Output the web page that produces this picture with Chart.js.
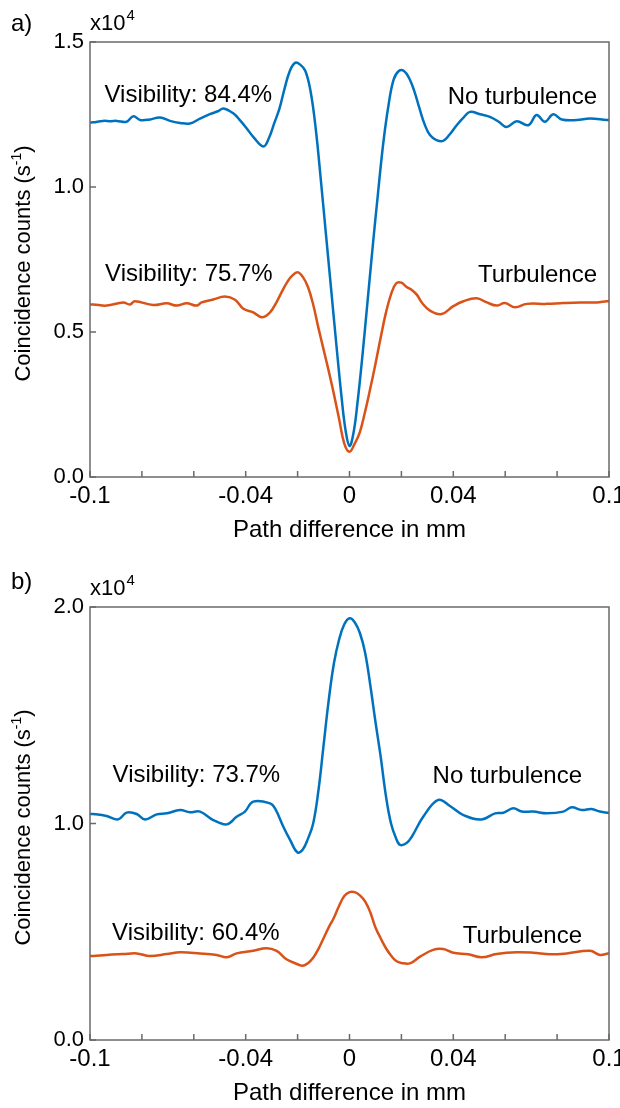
<!DOCTYPE html>
<html>
<head>
<meta charset="utf-8">
<script src="https://cdn.jsdelivr.net/npm/chart.js@4.4.1/dist/chart.umd.min.js"></script>
<style>
    html, body { margin: 0; padding: 0; background: #fff; }
    #wrap { position: relative; width: 620px; height: 1108px; overflow: hidden; }
    #c1 { position: absolute; left: 0; top: 0; }
    #c2 { position: absolute; left: 0; top: 545px; }
</style>
</head>
<body>
<div id="wrap">
    <canvas id="c1" width="620" height="545"></canvas>
    <canvas id="c2" width="620" height="563"></canvas>
</div>
<script>
// eixo x comum (mm)
const xTickVals = [-0.1, -0.08, -0.06, -0.04, -0.02, 0, 0.02, 0.04, 0.06, 0.08, 0.1];
const xLabelVals = [-0.1, -0.04, 0, 0.04, 0.1];
const xLabelText = ['-0.1', '-0.04', '0', '0.04', '0.1'];
const yTicksA = [0, 0.5, 1.0, 1.5];
const yTicksB = [0, 1.0, 2.0];

// a) contagens x10^4, sem turbulencia (azul)
const aBlueX = [-0.100, -0.0987, -0.095, -0.092, -0.0897, -0.0859, -0.0833, -0.0807, -0.0769, -0.073,
    -0.0692, -0.0653, -0.0615, -0.0576, -0.0538, -0.0505, -0.0486, -0.0448, -0.042, -0.0396,
    -0.0371, -0.0332, -0.031, -0.029, -0.027, -0.025, -0.023, -0.021, -0.019, -0.017,
    -0.015, -0.013, -0.011, -0.009, -0.007, -0.005, -0.003, -0.0015, 0.000, 0.0015,
    0.003, 0.005, 0.007, 0.009, 0.011, 0.013, 0.015, 0.017, 0.019, 0.021,
    0.023, 0.025, 0.027, 0.029, 0.031, 0.0335, 0.0361, 0.0385, 0.0413, 0.044,
    0.0464, 0.0503, 0.0541, 0.0575, 0.0606, 0.0644, 0.0689, 0.0721, 0.0753, 0.0785,
    0.0818, 0.0876, 0.0927, 0.0991, 0.100];
const aBlueY = [1.222, 1.223, 1.228, 1.227, 1.228, 1.225, 1.244, 1.231, 1.233, 1.240,
    1.228, 1.221, 1.219, 1.236, 1.251, 1.262, 1.271, 1.254, 1.228, 1.202,
    1.173, 1.140, 1.170, 1.220, 1.270, 1.340, 1.400, 1.428, 1.422, 1.400,
    1.330, 1.200, 1.020, 0.830, 0.640, 0.450, 0.270, 0.160, 0.107, 0.150,
    0.250, 0.420, 0.610, 0.800, 0.980, 1.150, 1.280, 1.370, 1.400, 1.400,
    1.375, 1.330, 1.270, 1.215, 1.179, 1.162, 1.159, 1.180, 1.213, 1.240,
    1.259, 1.251, 1.242, 1.225, 1.207, 1.227, 1.213, 1.248, 1.225, 1.251,
    1.233, 1.231, 1.236, 1.231, 1.231];

// a) com turbulencia (laranja)
const aOrangeX = [-0.100, -0.0987, -0.0936, -0.0872, -0.0846, -0.0827, -0.0756, -0.0704, -0.0666, -0.0627,
    -0.0589, -0.057, -0.0525, -0.048, -0.0441, -0.0409, -0.0371, -0.0338, -0.0306, -0.028,
    -0.026, -0.024, -0.022, -0.020, -0.018, -0.016, -0.014, -0.012, -0.010, -0.008,
    -0.006, -0.004, -0.002, 0.000, 0.002, 0.004, 0.006, 0.008, 0.010, 0.012,
    0.014, 0.016, 0.018, 0.020, 0.022, 0.024, 0.026, 0.028, 0.031, 0.0355,
    0.040, 0.0439, 0.049, 0.0529, 0.0567, 0.0599, 0.0638, 0.0683, 0.076, 0.0824,
    0.0888, 0.0953, 0.0991, 0.100];
const aOrangeY = [0.595, 0.595, 0.591, 0.602, 0.595, 0.606, 0.593, 0.599, 0.591, 0.599,
    0.591, 0.602, 0.612, 0.622, 0.611, 0.580, 0.568, 0.551, 0.568, 0.605,
    0.640, 0.672, 0.695, 0.706, 0.690, 0.655, 0.595, 0.515, 0.440, 0.365,
    0.285, 0.200, 0.115, 0.087, 0.115, 0.155, 0.225, 0.305, 0.390, 0.480,
    0.565, 0.630, 0.668, 0.670, 0.655, 0.645, 0.628, 0.600, 0.574, 0.562,
    0.589, 0.606, 0.616, 0.602, 0.591, 0.600, 0.585, 0.597, 0.597, 0.600,
    0.602, 0.602, 0.606, 0.606];

// b) sem turbulencia (azul)
const bBlueX = [-0.100, -0.0987, -0.0936, -0.0891, -0.0859, -0.082, -0.0788, -0.0743, -0.0704, -0.0653,
    -0.0615, -0.0576, -0.0525, -0.0473, -0.0435, -0.0403, -0.0371, -0.0306, -0.0287, -0.0255,
    -0.0229, -0.020, -0.018, -0.016, -0.014, -0.012, -0.010, -0.008, -0.006, -0.004,
    -0.002, 0.000, 0.002, 0.004, 0.006, 0.008, 0.010, 0.012, 0.014, 0.016,
    0.018, 0.0195, 0.022, 0.024, 0.0284, 0.0342, 0.0387, 0.0439, 0.0509, 0.0561,
    0.0593, 0.0631, 0.0664, 0.0708, 0.076, 0.0824, 0.0856, 0.0895, 0.0933, 0.0965,
    0.0997, 0.100];
const bBlueY = [1.044, 1.044, 1.035, 1.019, 1.050, 1.044, 1.019, 1.042, 1.047, 1.062,
    1.052, 1.055, 1.016, 0.996, 1.031, 1.055, 1.101, 1.093, 1.070, 0.985,
    0.924, 0.866, 0.880, 0.930, 1.000, 1.150, 1.360, 1.570, 1.740, 1.850,
    1.920, 1.948, 1.930, 1.880, 1.790, 1.640, 1.470, 1.310, 1.130, 1.000,
    0.930, 0.901, 0.910, 0.939, 1.031, 1.109, 1.081, 1.039, 1.019, 1.047,
    1.050, 1.070, 1.055, 1.055, 1.047, 1.055, 1.075, 1.062, 1.067, 1.055,
    1.050, 1.050];

// b) com turbulencia (laranja)
const bOrangeX = [-0.100, -0.0987, -0.0936, -0.0872, -0.082, -0.0769, -0.0704, -0.0653, -0.0576, -0.0512,
    -0.0473, -0.0435, -0.0371, -0.0320, -0.0281, -0.0243, -0.020, -0.018, -0.016, -0.014,
    -0.012, -0.010, -0.008, -0.006, -0.004, -0.002, 0.000, 0.002, 0.004, 0.006,
    0.008, 0.010, 0.012, 0.014, 0.016, 0.018, 0.020, 0.0233, 0.0272, 0.0322,
    0.0361, 0.040, 0.0457, 0.0509, 0.0567, 0.0644, 0.0708, 0.0773, 0.0837, 0.0927,
    0.0965, 0.0997, 0.100];
const bOrangeY = [0.388, 0.388, 0.393, 0.397, 0.400, 0.388, 0.397, 0.405, 0.400, 0.393,
    0.382, 0.400, 0.412, 0.424, 0.412, 0.373, 0.350, 0.343, 0.355, 0.380,
    0.420, 0.470, 0.520, 0.565, 0.620, 0.665, 0.683, 0.683, 0.668, 0.640,
    0.590, 0.520, 0.470, 0.425, 0.390, 0.365, 0.356, 0.354, 0.385, 0.416,
    0.420, 0.403, 0.396, 0.382, 0.397, 0.405, 0.403, 0.396, 0.400, 0.412,
    0.393, 0.400, 0.400];

const corEixo = '#6a6a6a';
const azul = '#0072BD';
const laranja = '#D95319';
const fonte = '"Liberation Sans", Arial, Helvetica, sans-serif';

Chart.defaults.font.family = fonte;
Chart.defaults.color = '#000';

function pontos(xs, ys) {
    return xs.map((x, i) => ({ x: x, y: ys[i] }));
}

// moldura, ticks internos, anotacoes e titulo do eixo y
const moldura = {
    id: 'moldura',
    afterDraw(chart, args, o) {
        const ctx = chart.ctx;
        const a = chart.chartArea;
        const sx = chart.scales.x;
        const sy = chart.scales.y;
        ctx.save();
        ctx.strokeStyle = corEixo;
        ctx.lineWidth = 1.5;
        ctx.strokeRect(a.left, a.top, a.right - a.left, a.bottom - a.top);
        ctx.beginPath();
        xTickVals.forEach(v => {
            const p = sx.getPixelForValue(v);
            ctx.moveTo(p, a.bottom);
            ctx.lineTo(p, a.bottom - 6);
        });
        o.yTicks.forEach(v => {
            const p = sy.getPixelForValue(v);
            ctx.moveTo(a.left, p);
            ctx.lineTo(a.left + 6, p);
        });
        ctx.stroke();

        ctx.fillStyle = '#000';
        ctx.textBaseline = 'alphabetic';
        ctx.font = '24px ' + fonte;
        o.notas.forEach(n => {
            ctx.textAlign = n.align;
            ctx.fillText(n.text, sx.getPixelForValue(n.x), sy.getPixelForValue(n.y));
        });

        ctx.textAlign = 'left';
        ctx.fillText(o.painel, 11, a.top - o.painelDy);

        ctx.font = '22px ' + fonte;
        ctx.fillText('x10', a.left, a.top - 12);
        const w = ctx.measureText('x10').width;
        ctx.font = '15px ' + fonte;
        ctx.fillText('4', a.left + w + 1, a.top - 22);

        // titulo do eixo y com expoente
        const p1 = 'Coincidence counts (s';
        const p2 = '-1';
        const p3 = ')';
        ctx.font = '22px ' + fonte;
        const w1 = ctx.measureText(p1).width;
        const w3 = ctx.measureText(p3).width;
        ctx.font = '14px ' + fonte;
        const w2 = ctx.measureText(p2).width;
        const total = w1 + w2 + w3;
        ctx.translate(30, (a.top + a.bottom) / 2 + 4);
        ctx.rotate(-Math.PI / 2);
        let cx = -total / 2;
        ctx.font = '22px ' + fonte;
        ctx.fillText(p1, cx, 0);
        cx += w1;
        ctx.font = '14px ' + fonte;
        ctx.fillText(p2, cx, -9);
        cx += w2;
        ctx.font = '22px ' + fonte;
        ctx.fillText(p3, cx, 0);
        ctx.restore();
    }
};

function criarGrafico(id, padTop, yMax, yTicks, series, notas, painel, painelDy) {
    return new Chart(document.getElementById(id), {
        type: 'line',
        data: {
            datasets: series.map(s => ({
                label: s.nome,
                data: s.dados,
                borderColor: s.cor,
                borderWidth: 2.5,
                pointRadius: 0,
                fill: false,
                tension: 0.4
            }))
        },
        options: {
            responsive: false,
            animation: false,
            devicePixelRatio: 1,
            layout: { padding: { top: padTop, right: 11, left: 0, bottom: 0 } },
            plugins: {
                legend: { display: false },
                tooltip: { enabled: false },
                moldura: { yTicks: yTicks, notas: notas, painel: painel, painelDy: painelDy }
            },
            scales: {
                x: {
                    type: 'linear',
                    min: -0.1,
                    max: 0.1,
                    grid: { display: false, drawTicks: false },
                    border: { display: false },
                    afterBuildTicks: s => { s.ticks = xTickVals.map(v => ({ value: v })); },
                    afterFit: s => { s.height = 68; s.paddingLeft = 0; s.paddingRight = 0; },
                    ticks: {
                        autoSkip: false,
                        maxRotation: 0,
                        padding: 5,
                        font: { size: 24 },
                        callback: v => {
                            const i = xLabelVals.findIndex(t => Math.abs(t - v) < 1e-9);
                            return i < 0 ? '' : xLabelText[i];
                        }
                    },
                    title: {
                        display: true,
                        text: 'Path difference in mm',
                        font: { size: 24 },
                        padding: { top: 0, bottom: 0 }
                    }
                },
                y: {
                    type: 'linear',
                    min: 0,
                    max: yMax,
                    grid: { display: false, drawTicks: false },
                    border: { display: false },
                    afterBuildTicks: s => { s.ticks = yTicks.map(v => ({ value: v })); },
                    afterFit: s => { s.width = 90; s.paddingTop = 0; s.paddingBottom = 0; },
                    ticks: {
                        padding: 6,
                        font: { size: 22 },
                        callback: v => v.toFixed(1)
                    }
                }
            }
        },
        plugins: [moldura]
    });
}

criarGrafico('c1', 42, 1.5, yTicksA, [
    { nome: 'No turbulence', dados: pontos(aBlueX, aBlueY), cor: azul },
    { nome: 'Turbulence', dados: pontos(aOrangeX, aOrangeY), cor: laranja }
], [
    { text: 'Visibility: 84.4%', x: -0.0944, y: 1.293, align: 'left' },
    { text: 'No turbulence', x: 0.0954, y: 1.286, align: 'right' },
    { text: 'Visibility: 75.7%', x: -0.0942, y: 0.677, align: 'left' },
    { text: 'Turbulence', x: 0.0954, y: 0.672, align: 'right' }
], 'a)', 11);

criarGrafico('c2', 62, 2.0, yTicksB, [
    { nome: 'No turbulence', dados: pontos(bBlueX, bBlueY), cor: azul },
    { nome: 'Turbulence', dados: pontos(bOrangeX, bOrangeY), cor: laranja }
], [
    { text: 'Visibility: 73.7%', x: -0.0913, y: 1.192, align: 'left' },
    { text: 'No turbulence', x: 0.0896, y: 1.186, align: 'right' },
    { text: 'Visibility: 60.4%', x: -0.0915, y: 0.462, align: 'left' },
    { text: 'Turbulence', x: 0.0896, y: 0.449, align: 'right' }
], 'b)', 18);
</script>
</body>
</html>
